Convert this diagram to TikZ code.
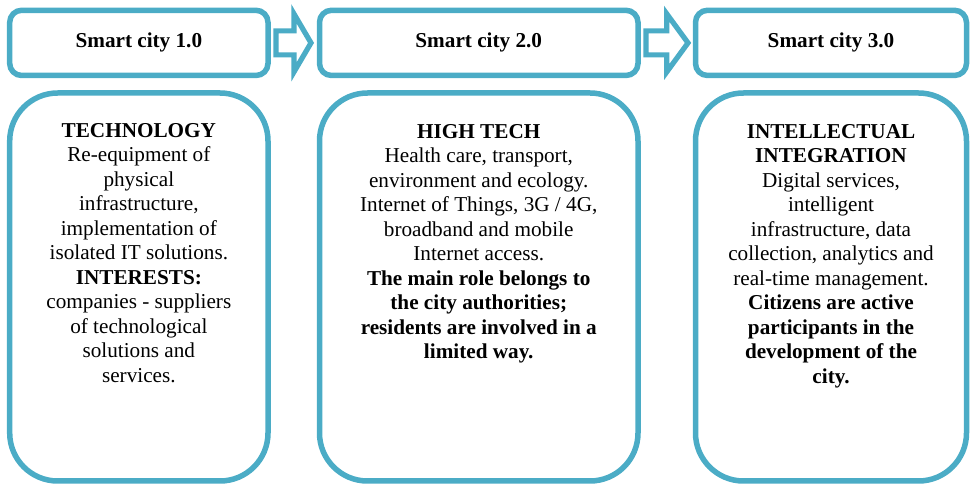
\documentclass[tikz,border=0pt]{standalone}
\usepackage{fontspec}
\setmainfont{Liberation Serif}
\usepackage{tikz}
\usetikzlibrary{positioning}
\definecolor{cityblue}{RGB}{75,172,198}

\begin{document}
\begin{tikzpicture}[stage/.style={rectangle, rounded corners=6pt, draw=cityblue, line width=2.75pt, outer sep=0pt, inner sep=0pt, minimum height=32.6pt, font=\fontsize{10.6pt}{12.25pt}\selectfont\bfseries}, panel/.style={rectangle, rounded corners=24pt, draw=cityblue, line width=2.75pt, outer sep=0pt, minimum height=194pt}, paneltext/.style={anchor=north, align=center, inner sep=0pt, font=\fontsize{10.6pt}{12.25pt}\selectfont}, flowarrow/.style={draw=cityblue, line width=2.6pt, fill=white, line join=miter}]
    
    %Nodes
    \node[stage, minimum width=129.15pt](sc1){Smart city 1.0};
    \node[stage, minimum width=159.25pt](sc2)[right=25.75pt of sc1]{Smart city 2.0};
    \node[stage, minimum width=135.5pt](sc3)[right=28.75pt of sc2]{Smart city 3.0};
    \node[panel, minimum width=129.15pt](tech)[below=8.75pt of sc1]{};
    \node[panel, minimum width=159.25pt](hightech)[below=8.75pt of sc2]{};
    \node[panel, minimum width=135.5pt](integration)[below=8.75pt of sc3]{};
    
    %Texts
    \node[paneltext](tech_text)[below=15pt of tech.north]{\textbf{TECHNOLOGY}\\Re-equipment of\\physical\\infrastructure,\\implementation of\\isolated IT solutions.\\\textbf{INTERESTS:}\\companies - suppliers\\of technological\\solutions and\\services.};
    \node[paneltext](hightech_text)[below=15.5pt of hightech.north]{\textbf{HIGH TECH}\\Health care, transport,\\environment and ecology.\\Internet of Things, 3G / 4G,\\broadband and mobile\\Internet access.\\\textbf{The main role belongs to}\\\textbf{the city authorities;}\\\textbf{residents are involved in a}\\\textbf{limited way.}};
    \node[paneltext](integration_text)[below=15.5pt of integration.north]{\textbf{INTELLECTUAL}\\\textbf{INTEGRATION}\\Digital services,\\intelligent\\infrastructure, data\\collection, analytics and\\real-time management.\\\textbf{Citizens are active}\\\textbf{participants in the}\\\textbf{development of the}\\\textbf{city.}};
    
    %Arrows
    \draw[flowarrow] ([xshift=4pt,yshift=6pt]sc1.east) -- ++(9pt,0) -- ++(0,8.5pt) -- ([xshift=21.5pt]sc1.east) -- ([xshift=13pt,yshift=-14.5pt]sc1.east) -- ++(0,8.5pt) -- ++(-9pt,0) -- cycle;
    \draw[flowarrow] ([xshift=4pt,yshift=6pt]sc2.east) -- ++(10.4pt,0) -- ++(0,8.5pt) -- ([xshift=25pt]sc2.east) -- ([xshift=14.4pt,yshift=-14.5pt]sc2.east) -- ++(0,8.5pt) -- ++(-10.4pt,0) -- cycle;
    
    \useasboundingbox ([xshift=-4.85pt,yshift=5.15pt]sc1.north west) rectangle ++(485pt,-243pt);
    
    \end{tikzpicture}
\end{document}
